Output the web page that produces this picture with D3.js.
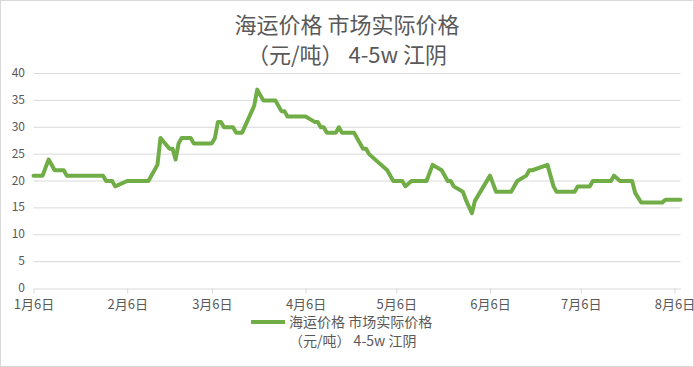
<!DOCTYPE html>
<html><head><meta charset="utf-8">
<script src="https://cdn.jsdelivr.net/npm/d3@7"></script>
<style>
html,body{margin:0;padding:0;background:#fff;}
svg{display:block;font-family:"Noto Sans CJK SC","Noto Sans",sans-serif;}
</style></head>
<body>
<script>
const titleLines = ["海运价格 市场实际价格", "（元/吨） 4-5w 江阴"];
const seriesName = ["海运价格 市场实际价格", "（元/吨） 4-5w 江阴"];
const dates = ["2021-01-06","2021-01-09","2021-01-11","2021-01-13","2021-01-16","2021-01-17","2021-01-29","2021-01-30","2021-02-01","2021-02-02","2021-02-06","2021-02-13","2021-02-16","2021-02-17","2021-02-20","2021-02-21","2021-02-22","2021-02-23","2021-02-24","2021-02-27","2021-02-28","2021-03-06","2021-03-07","2021-03-08","2021-03-09","2021-03-10","2021-03-13","2021-03-14","2021-03-16","2021-03-20","2021-03-21","2021-03-23","2021-03-27","2021-03-29","2021-03-30","2021-03-31","2021-04-06","2021-04-09","2021-04-10","2021-04-11","2021-04-12","2021-04-13","2021-04-16","2021-04-17","2021-04-18","2021-04-22","2021-04-25","2021-04-26","2021-04-27","2021-05-03","2021-05-05","2021-05-08","2021-05-09","2021-05-11","2021-05-16","2021-05-18","2021-05-21","2021-05-23","2021-05-24","2021-05-25","2021-05-28","2021-05-29","2021-05-31","2021-06-01","2021-06-06","2021-06-08","2021-06-13","2021-06-15","2021-06-18","2021-06-19","2021-06-20","2021-06-25","2021-06-27","2021-06-28","2021-07-04","2021-07-05","2021-07-09","2021-07-10","2021-07-16","2021-07-17","2021-07-19","2021-07-23","2021-07-24","2021-07-26","2021-08-02","2021-08-03","2021-08-08"];
const values = [21,21,24,22,22,21,21,20,20,19,20,20,23,28,26,26,24,27,28,28,27,27,28,31,31,30,30,29,29,34,37,35,35,33,33,32,32,31,31,30,30,29,29,30,29,29,26,26,25,22,20,20,19,20,20,23,22,20,20,19,18,16.5,14,16.3,21,18,18,20,21,22,22,23,19,18,18,19,19,20,20,21,20,20,17.8,16,16,16.5,16.5];
const xTickDates = ["2021-01-06","2021-02-06","2021-03-06","2021-04-06","2021-05-06","2021-06-06","2021-07-06","2021-08-06"];
const xTickLabels = ["1月6日","2月6日","3月6日","4月6日","5月6日","6月6日","7月6日","8月6日"];
const yTicks = [0,5,10,15,20,25,30,35,40];

const W = 694, H = 367;
const parse = d3.timeParse("%Y-%m-%d");
const data = dates.map((d,i)=>({date: parse(d), value: values[i]}));

const svg = d3.select("body").append("svg").attr("width", W).attr("height", H);
svg.append("rect").attr("x",0.5).attr("y",0.5).attr("width",W-1).attr("height",H-1)
  .attr("fill","#fff").attr("stroke","#d9d9d9");

const x = d3.scaleTime().domain([parse("2021-01-06"), parse("2021-08-08")]).range([33.5, 680.5]);
const y = d3.scaleLinear().domain([0,40]).range([288.5, 73.5]);

// gridlines
svg.append("g").selectAll("line").data(yTicks.filter(v=>v>0)).join("line")
  .attr("x1",33.5).attr("x2",680.5).attr("y1",d=>y(d)).attr("y2",d=>y(d))
  .attr("stroke","#d9d9d9").attr("stroke-width",1);

// y labels
svg.append("g").selectAll("text").data(yTicks).join("text")
  .attr("x",25).attr("y",d=>y(d)).attr("dy","0.3em").attr("text-anchor","end")
  .attr("font-size",12).attr("fill","#595959").text(d=>d);

// x axis
const xAxis = d3.axisBottom(x).tickValues(xTickDates.map(parse))
  .tickFormat((d,i)=>xTickLabels[i]).tickSizeInner(5).tickSizeOuter(0).tickPadding(6);
const gx = svg.append("g").attr("transform","translate(0,288.5)").call(xAxis);
gx.select(".domain").attr("stroke","#d9d9d9");
gx.selectAll(".tick line").attr("stroke","#d9d9d9");
gx.selectAll(".tick text").attr("font-size",13).attr("fill","#595959")
  .attr("font-family",'"Noto Sans CJK SC",sans-serif');

// line
const line = d3.line().x(d=>x(d.date)).y(d=>y(d.value));
svg.append("path").datum(data).attr("d",line).attr("fill","none")
  .attr("stroke","#70ad47").attr("stroke-width",4).attr("stroke-linejoin","round").attr("stroke-linecap","round");

// title
svg.append("g").selectAll("text").data(titleLines).join("text")
  .attr("x",W/2).attr("y",(d,i)=>33+i*30).attr("text-anchor","middle")
  .attr("font-size",22).attr("fill","#595959").text(d=>d);

// legend
svg.append("line").attr("x1",251).attr("x2",285).attr("y1",322).attr("y2",322)
  .attr("stroke","#70ad47").attr("stroke-width",4);
svg.append("g").selectAll("text").data(seriesName).join("text")
  .attr("x",289).attr("y",(d,i)=>327+i*19).attr("font-size",14).attr("fill","#595959").text(d=>d);
</script>
</body></html>
